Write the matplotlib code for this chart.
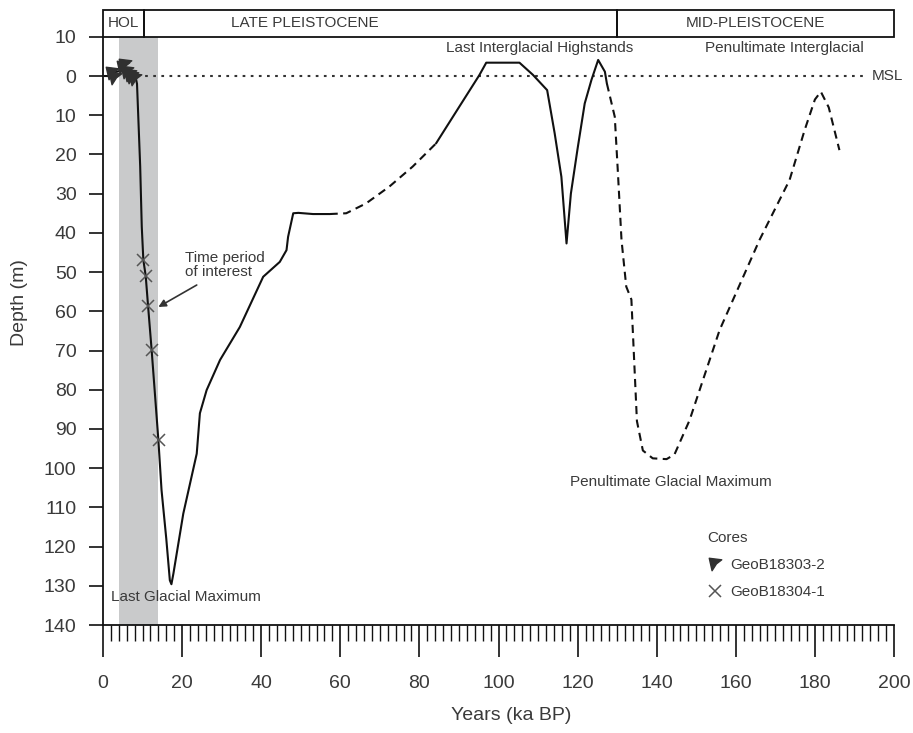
import matplotlib
matplotlib.use("Agg")
import matplotlib.pyplot as plt
import matplotlib.transforms as mtransforms
from matplotlib.lines import Line2D
from matplotlib.path import Path
import numpy as np

plt.rcParams['font.family'] = ['Liberation Sans', 'DejaVu Sans']

# sea-level curve, split into measured (solid) and inferred (dashed) parts
solid1_ka = [0.3, 1.6, 2.4, 5.0, 8.3, 8.6, 9.4, 9.8, 10.2, 10.8, 11.4, 12.3, 14.0, 14.8, 16.0,
             16.9, 17.3, 17.8, 20.3, 23.7, 24.5, 26.2, 29.6, 34.6, 40.5, 44.7, 46.4, 46.8,
             48.1, 49.4, 53.1, 57.3]
solid1_depth = [0, 0, -0.8, -1.5, 0.5, 2, 23, 38.4, 46.9, 51.0, 58.7, 69.9, 92.8, 105.6, 118,
                128.6, 129.6, 126.9, 111.6, 96.3, 86, 80.1, 72.4, 64, 51.2, 47.4, 44.4, 41,
                35, 34.9, 35.2, 35.2]

dashed1_ka = [57.3, 61.5, 66.5, 72.4, 78.3, 84.2]
dashed1_depth = [35.2, 35.0, 32.5, 28.2, 23.1, 17.2]

solid2_ka = [84.2, 90.1, 95.2, 96.9, 105.3, 108.7, 112.3, 114.2, 115.9, 117.2, 118.3, 120.0,
             121.8, 123.5, 125.2, 126.9, 127.4]
solid2_depth = [17.2, 7.8, -0.3, -3.4, -3.4, -0.3, 3.6, 14.6, 25.7, 42.7, 30, 18.5,
                7, 1, -4.1, -1.1, 1.9]

dashed2_ka = [127.4, 129.4, 130.2, 131.1, 132.3, 133.6, 135.0, 136.5, 139.0, 142.5, 144.5,
              148.3, 155.9, 166.0, 173.6, 177.4, 180.0, 181.5, 183.5, 186.2]
dashed2_depth = [1.9, 10.4, 24.8, 41.8, 53.7, 57.0, 88, 95.5, 97.5, 97.7, 96.5,
                 87.8, 64.8, 41.8, 26.5, 13.8, 6, 4.0, 8, 18.9]

# core samples
core1_ka = [2.2, 3.0, 5.1, 5.6, 6.0, 6.8, 7.4, 8.1]
core1_depth = [-0.8, 0.6, -2.2, -2.9, -0.9, -0.3, 0.3, 0.8]
core2_ka = [10.2, 10.8, 11.4, 12.3, 14.2]
core2_depth = [46.9, 51.0, 58.7, 69.9, 92.7]
core_names = ["GeoB18303-2", "GeoB18304-1"]

# time period of interest
interest_start, interest_end = 4, 14

# geological epochs along the top
epoch_names = ["HOL", "LATE PLEISTOCENE", "MID-PLEISTOCENE"]
epoch_bounds = [0, 10.4, 130, 200]
epoch_label_x = [5.2, 51, 165]

msl_start, msl_end = 8.5, 193.5

y_ticks = np.arange(-10, 141, 10)
x_major = np.arange(0, 201, 20)
x_minor = np.arange(0, 201, 2)

txt = '#3a3a3a'
fs = 11

fig = plt.figure(figsize=(9.13, 7.33), dpi=100)
ax = fig.add_axes([103 / 913, 1 - 625 / 733, 791 / 913, 588.2 / 733])

ax.axvspan(interest_start, interest_end, color='#c9cacb', lw=0, zorder=0)

ax.plot([msl_start, msl_end], [0, 0], color='#333333', lw=1.5,
        linestyle=(0, (1.3, 2.6)), zorder=1)
ax.text(msl_end + 0.8, 0, "MSL", ha='left', va='center', fontsize=fs, color=txt)

line_kw = dict(color='#111111', lw=1.5, zorder=2, solid_capstyle='round')
ax.plot(solid1_ka, solid1_depth, **line_kw)
ax.plot(solid2_ka, solid2_depth, **line_kw)
dash_kw = dict(color='#111111', lw=1.5, zorder=2, linestyle=(0, (3.9, 2.6)))
ax.plot(dashed1_ka, dashed1_depth, **dash_kw)
ax.plot(dashed2_ka, dashed2_depth, **dash_kw)

# dart shaped marker for the first core
dart = Path([(-1, 1), (1, 0.75), (0.15, 0.1), (-0.55, -1), (-1, 1)],
            [Path.MOVETO, Path.LINETO, Path.LINETO, Path.LINETO, Path.CLOSEPOLY])
ax.plot(core1_ka, core1_depth, linestyle='none', marker=dart, markersize=9,
        color='#303030', zorder=3)
ax.plot(core2_ka, core2_depth, linestyle='none', marker='x', markersize=8,
        mew=1.1, color='#555555', zorder=3)

# annotations
ax.text(110.5, -7.2, "Last Interglacial Highstands", ha='center', va='center',
        fontsize=fs, color=txt)
ax.text(172.3, -7.2, "Penultimate Interglacial", ha='center', va='center',
        fontsize=fs, color=txt)
ax.text(1.9, 132.8, "Last Glacial Maximum", ha='left', va='center', fontsize=fs, color=txt)
ax.text(143.6, 103.6, "Penultimate Glacial Maximum", ha='center', va='center',
        fontsize=fs, color=txt)
ax.text(20.7, 48.2, "Time period\nof interest", ha='left', va='center', fontsize=fs,
        color=txt, linespacing=1.05)
ax.annotate('', xy=(14.0, 58.9), xytext=(23.7, 53.3),
            arrowprops=dict(arrowstyle='-|>', color='#333333', lw=1.2,
                            mutation_scale=11, shrinkA=0, shrinkB=0))

# legend
handles = [Line2D([], [], linestyle='none', marker=dart, markersize=9, color='#303030'),
           Line2D([], [], linestyle='none', marker='x', markersize=8, mew=1.1,
                  color='#555555')]
leg = ax.legend(handles, core_names, title="Cores", loc='upper left',
                bbox_to_anchor=(0.764, 0.160), frameon=False, alignment='left',
                fontsize=fs, title_fontsize=fs, handlelength=1.0,
                handletextpad=0.5, labelspacing=0.85, borderpad=0, borderaxespad=0)
for t in leg.get_texts():
    t.set_color(txt)
leg.get_title().set_color(txt)

# epoch band above the plot
band = mtransforms.blended_transform_factory(ax.transData, ax.transAxes)
band_h = 0.046
for name, lo, hi, lx in zip(epoch_names, epoch_bounds[:-1], epoch_bounds[1:], epoch_label_x):
    ax.add_patch(plt.Rectangle((lo, 1.0), hi - lo, band_h, transform=band, fill=False,
                               edgecolor='#111111', lw=1.3, clip_on=False))
    ax.text(lx, 1.0 + band_h / 2, name, transform=band, ha='center', va='center',
            fontsize=fs, color=txt)

ax.set_xlim(0, 200)
ax.set_ylim(140, -10)

ax.set_yticks(y_ticks)
ax.set_yticklabels([str(abs(v)) for v in y_ticks])
ax.set_xticks(x_major)
ax.set_xticks(x_minor, minor=True)

ax.spines['top'].set_visible(False)
ax.spines['right'].set_visible(False)
for s in ('left', 'bottom'):
    ax.spines[s].set_linewidth(1.3)
    ax.spines[s].set_color('#111111')

ax.tick_params(axis='y', direction='out', length=10, width=1.2, pad=9,
               labelsize=14, labelcolor=txt, color='#111111')
ax.tick_params(axis='x', which='major', direction='out', length=23, width=1.2, pad=13,
               labelsize=14, labelcolor=txt, color='#111111')
ax.tick_params(axis='x', which='minor', direction='out', length=11.5, width=1.0,
               color='#111111')

ax.set_xlabel("Years (ka BP)", fontsize=14, color=txt)
ax.xaxis.set_label_coords(0.516, -0.139)
ax.set_ylabel("Depth (m)", fontsize=14, color=txt, va='center')
ax.yaxis.set_label_coords(-0.105, 0.548)

fig.savefig("out.png", dpi=100)
